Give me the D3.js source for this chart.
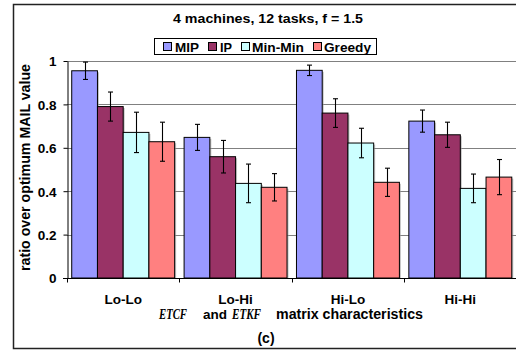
<!DOCTYPE html>
<html><head><meta charset="utf-8">
<script src="https://cdn.jsdelivr.net/npm/d3@7"></script>
<style>body{margin:0;background:#fff}svg{display:block;font-family:Arial,"Liberation Sans",sans-serif;font-weight:bold}</style>
</head><body><svg id="c" width="516" height="350"></svg>
<script>
const categories = ["Lo-Lo","Lo-Hi","Hi-Lo","Hi-Hi"];
const seriesNames = ["MIP","IP","Min-Min","Greedy"];
const seriesColors = ["#9999FF","#993366","#CCFFFF","#FF8080"];
const MIP = [0.955,0.648,0.957,0.723];
const IP = [0.790,0.559,0.760,0.660];
const MinMin = [0.671,0.436,0.622,0.413];
const Greedy = [0.628,0.418,0.441,0.465];
const errMIP = [0.040,0.060,0.024,0.051];
const errIP = [0.067,0.075,0.066,0.058];
const errMinMin = [0.093,0.089,0.068,0.066];
const errGreedy = [0.090,0.063,0.065,0.081];
const yTicks = [0,0.2,0.4,0.6,0.8,1];
const yTickLabels = ["0","0.2","0.4","0.6","0.8","1"];

const values = [MIP,IP,MinMin,Greedy];
const errs = [errMIP,errIP,errMinMin,errGreedy];

const svg = d3.select("#c");
// outer border
svg.append("rect").attr("x",13.5).attr("y",4.5).attr("width",520).attr("height",344)
  .attr("fill","none").attr("stroke","#222").attr("stroke-width",1.5);

const L=67, R=516.5, T=61, B=278;
const x0 = d3.scaleBand().domain(categories).range([L,R]).paddingInner(0).paddingOuter(0);
const x1 = d3.scaleBand().domain(seriesNames).range([0,x0.bandwidth()]).paddingOuter(0.1835).paddingInner(0);
const y = d3.scaleLinear().domain([0,1]).range([B,T]);

// gridlines
svg.append("g").selectAll("line").data(yTicks.filter(d=>d>0)).join("line")
  .attr("x1",L).attr("x2",R).attr("y1",d=>Math.round(y(d))+0.5).attr("y2",d=>Math.round(y(d))+0.5)
  .attr("stroke","#808080").attr("stroke-width",1);

// bars
const g = svg.append("g");
categories.forEach((c,ci)=>{
  seriesNames.forEach((s,si)=>{
    const bx = x0(c)+x1(s), bw = x1.bandwidth(), v = values[si][ci];
    g.append("rect").attr("x",bx+1.5).attr("y",y(v)+1.5).attr("width",bw).attr("height",B-y(v)-1.5)
      .attr("fill","#9a9a9a").attr("opacity",0.6);
  });
});
categories.forEach((c,ci)=>{
  seriesNames.forEach((s,si)=>{
    const bx = x0(c)+x1(s), bw = x1.bandwidth(), v = values[si][ci];
    g.append("rect").attr("x",bx).attr("y",y(v)).attr("width",bw).attr("height",B-y(v))
      .attr("fill",seriesColors[si]).attr("stroke","#000").attr("stroke-width",1);
  });
});
// error bars
categories.forEach((c,ci)=>{
  seriesNames.forEach((s,si)=>{
    const cx = Math.round(x0(c)+x1(s)+x1.bandwidth()/2)+0.5, v=values[si][ci], e=errs[si][ci];
    const eg = g.append("g").attr("stroke","#000").attr("stroke-width",1.1);
    eg.append("line").attr("x1",cx).attr("x2",cx).attr("y1",y(v+e)).attr("y2",y(v-e));
    eg.append("line").attr("x1",cx-2.5).attr("x2",cx+2.5).attr("y1",y(v+e)).attr("y2",y(v+e));
    eg.append("line").attr("x1",cx-2.5).attr("x2",cx+2.5).attr("y1",y(v-e)).attr("y2",y(v-e));
  });
});

// y axis
const yAxis = d3.axisLeft(y).tickValues(yTicks).tickFormat((d,i)=>yTickLabels[i]).tickSize(4).tickPadding(7).tickSizeOuter(0);
const ya = svg.append("g").attr("transform",`translate(${L+0.5},0)`).call(yAxis)
  .attr("font-family",null).attr("font-size",null);
ya.selectAll("text").attr("font-size","13.5px").attr("fill","#000").attr("dy","0.36em");
ya.selectAll("line,path").attr("stroke","#000");

// x axis
const xa = svg.append("g").attr("transform",`translate(0,${B+0.5})`);
xa.append("line").attr("x1",L-4).attr("x2",R).attr("y1",0).attr("y2",0).attr("stroke","#000");
const bounds = categories.map(c=>x0(c)).concat([x0(categories[3])+x0.bandwidth()]);
xa.selectAll("line.t").data(bounds).join("line").attr("class","t")
  .attr("x1",d=>Math.round(d)+0.5).attr("x2",d=>Math.round(d)+0.5).attr("y1",0).attr("y2",4).attr("stroke","#000");
xa.selectAll("text").data(categories).join("text")
  .attr("x",d=>x0(d)+x0.bandwidth()/2).attr("y",25).attr("text-anchor","middle")
  .attr("font-size","13.5px").text(d=>d);

// axis titles
svg.append("text").attr("transform",`translate(30,${(T+B)/2-2}) rotate(-90)`).attr("text-anchor","middle")
  .attr("font-size","14px").attr("textLength",207).attr("lengthAdjust","spacingAndGlyphs").text("ratio over optimum MAIL value");

const serif = "'Liberation Serif','Times New Roman',serif";
svg.append("text").attr("x",159).attr("y",319).attr("font-family",serif).attr("font-style","italic")
  .attr("font-size","14px").attr("textLength",28).attr("lengthAdjust","spacingAndGlyphs").text("ETCF");
svg.append("text").attr("x",203).attr("y",319).attr("font-size","13.5px").text("and");
svg.append("text").attr("x",232).attr("y",319).attr("font-family",serif).attr("font-style","italic")
  .attr("font-size","14px").attr("textLength",29).attr("lengthAdjust","spacingAndGlyphs").text("ETKF");
svg.append("text").attr("x",276).attr("y",319).attr("font-size","14px").attr("textLength",147).attr("lengthAdjust","spacingAndGlyphs").text("matrix characteristics");

svg.append("text").attr("x",266).attr("y",343).attr("text-anchor","middle")
  .attr("font-size","14px").text("(c)");

// title
svg.append("text").attr("x",173).attr("y",23)
  .attr("font-size","13.5px").attr("textLength",190).attr("lengthAdjust","spacingAndGlyphs").text("4 machines, 12 tasks, f = 1.5");

// legend
svg.append("rect").attr("x",154.5).attr("y",38.5).attr("width",222).attr("height",16)
  .attr("fill","#fff").attr("stroke","#000");
const legMarkX = [163,208,241,313];
const legTextX = [175,220,252,324];
const legTextW = [24,12,52,47];
seriesNames.forEach((s,i)=>{
  svg.append("rect").attr("x",legMarkX[i]+0.5).attr("y",42.5).attr("width",8).attr("height",8)
    .attr("fill",seriesColors[i]).attr("stroke","#000");
  svg.append("text").attr("x",legTextX[i]).attr("y",51.5).attr("font-size","13.5px")
    .attr("textLength",legTextW[i]).attr("lengthAdjust","spacingAndGlyphs").text(s);
});
</script></body></html>
